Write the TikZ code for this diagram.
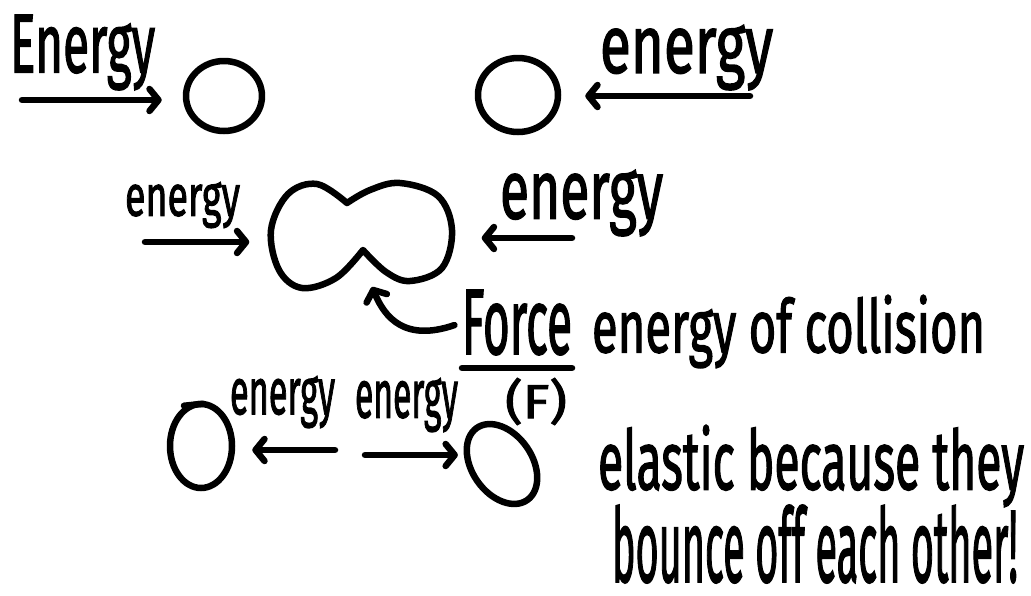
\documentclass[tikz,border=0pt]{standalone}
\usepackage{fontspec}
\usepackage{graphicx}
\usetikzlibrary{arrows.meta,shapes.geometric}
\newfontfamily\hand{Fira Sans}[FakeBold=2]
\newcommand\hw[3]{\resizebox*{#1pt}{#2pt}{\hand #3}}
\tikzset{
  ink/.style={line width=6.5pt, line cap=round, line join=round},
  arr/.style={ink, -{Straight Barb[length=9pt 0,width=22pt 0,round]}},
  ball/.style={ink, draw, ellipse, inner sep=0pt},
  txt/.style={inner sep=0pt, outer sep=0pt, anchor=north west}
}
\begin{document}
\begin{tikzpicture}[x=1pt,y=-1pt]
\path[use as bounding box, fill=white] (0,0) rectangle (1031,595);

% texts
\node[txt] (tE)  at (10,15)   {\hw{145}{75}{Energy}};
\node[txt] (tTR) at (600,25)  {\hw{173}{65}{energy}};
\node[txt] (tML) at (125,182) {\hw{115}{46}{energy}};
\node[txt] (tMR) at (500,170) {\hw{163}{66}{energy}};
\node[txt] (Force) at (462,290) {\hw{110}{65}{Force}};
\node[txt] (tF)  at (505,378) {\hw{62}{47}{(F)}};
\node[txt] (tEC) at (592,295) {\hw{393}{73}{energy of collision}};
\node[txt] (tB1) at (230,376) {\hw{105}{52}{energy}};
\node[txt] (tB2) at (355,378) {\hw{103}{54}{energy}};
\node[txt] (tL1) at (598,425) {\hw{426}{82}{elastic because they}};
\node[txt] (tL2) at (612,505) {\hw{406}{78}{bounce off each other!}};
\draw[ink] ([yshift=-13pt]Force.south west) -- ([yshift=-13pt]Force.south east);

% balls
\node[ball, minimum width=76pt, minimum height=70pt] (c1) at (224,96) {};
\node[ball, minimum width=80pt, minimum height=74pt] (c2) at (518,95) {};
\node[ball, minimum width=62pt, minimum height=84pt] (c3) at (201,446) {};
\node[ball, minimum width=88pt, minimum height=60pt, rotate=-55] (c4) at (502,464) {};
\draw[ink] ([shift={(-17pt,-5pt)}]c3.north) -- ([shift={(2pt,-3pt)}]c3.north);

% peanut (two balls squeezed together)
\node[inner sep=0pt, minimum width=187pt, minimum height=112pt] (pn) at (361,236) {};
\draw[ink] plot[smooth, tension=0.6] coordinates {(347,203) (317,184) (288,194) (271,230) (279,270) (302,288) (336,278) (363,250)}
  -- plot[smooth, tension=0.6] coordinates {(363,250) (386,272) (410,281) (442,268) (452,230) (438,196) (400,183) (370,190) (347,203)} -- cycle;
\coordinate (notch) at (372,287);

% arrows
\coordinate (s1) at (22,100);
\coordinate (s2) at (750,96);
\coordinate (s3) at (145,242);
\coordinate (s4) at (572,238);
\coordinate (s5) at (335,450);
\coordinate (s6) at (365,455);
\draw[arr, shorten >=21pt] (s1) -- (c1.west |- s1);
\draw[arr, shorten >=24pt] (s2) -- (c2.east |- s2);
\draw[arr, shorten >=18pt] (s3) -- (pn.west |- s3);
\draw[arr, shorten >=27pt] (s4) -- (pn.east |- s4);
\draw[arr, shorten >=17pt] (s5) -- (c3.east |- s5);
\draw[arr, shorten >=17pt] (s6) -- (c4.west |- s6);
\draw[arr, shorten <=8pt] (Force.west) .. controls (405,342) and (385,318) .. (notch);
\end{tikzpicture}
\end{document}
